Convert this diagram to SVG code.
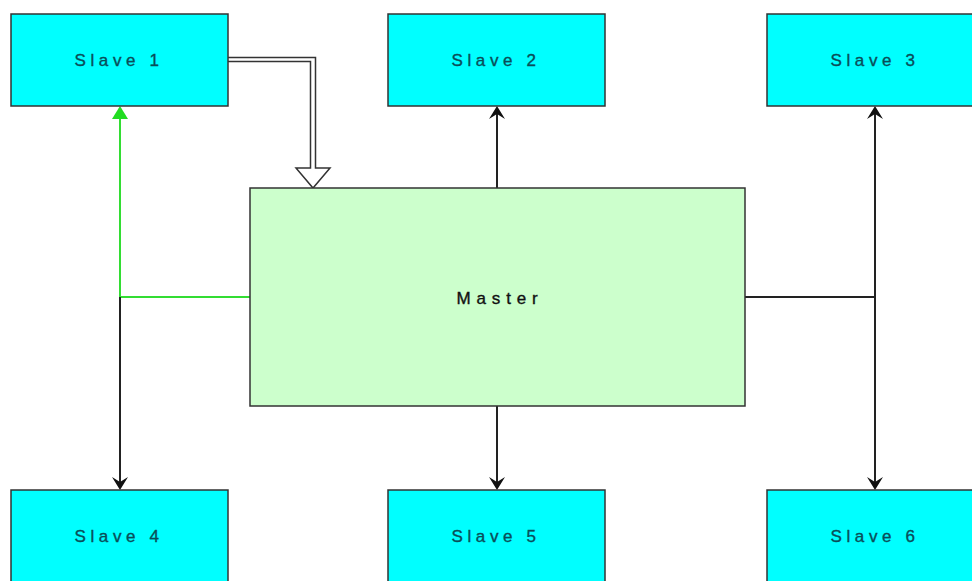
<svg xmlns="http://www.w3.org/2000/svg" width="972" height="581" viewBox="0 0 972 581">
<defs>
<style>
.slave{fill:#00ffff;stroke:#333;stroke-width:1.5}
.master{fill:#ccffcc;stroke:#333;stroke-width:1.5}
.lbl{font-family:"Liberation Sans",Arial,sans-serif;font-size:17px;letter-spacing:4.6px;fill:#0a4d58;stroke:#0a4d58;stroke-width:0.35;text-anchor:middle;dominant-baseline:central}
.mlbl{font-family:"Liberation Sans",Arial,sans-serif;font-size:17px;letter-spacing:5.8px;fill:#111;stroke:#111;stroke-width:0.35;text-anchor:middle;dominant-baseline:central}
.k{stroke:#222;stroke-width:2;fill:none}
.g{stroke:#33dd33;stroke-width:2;fill:none}
</style>
</defs>
<g id="connectors">
<path class="g" d="M250,297 H120 V108"/>
<path d="M120,106 L128,119 L112,119 Z" fill="#22dd22"/>
<path class="k" d="M120,297 V488"/>
<path d="M120,490 L112,477 L120,482 L128,477 Z" fill="#111"/>
<path class="k" d="M497,188 V108"/>
<path d="M497,106 L489,119 L497,114 L505,119 Z" fill="#111"/>
<path class="k" d="M497,406 V488"/>
<path d="M497,490 L489,477 L497,482 L505,477 Z" fill="#111"/>
<path class="k" d="M745,297 H875" stroke-width="1.3"/>
<path class="k" d="M875,108 V488"/>
<path d="M875,106 L867,119 L875,114 L883,119 Z" fill="#111"/>
<path d="M875,490 L867,477 L875,482 L883,477 Z" fill="#111"/>
<path d="M228,57.5 H315.5 V168 H330 L313,188 L296,168 H310.5 V61.5 H228" fill="#fff" stroke="#333" stroke-width="1.5"/>
</g>
<g id="slave1"><rect class="slave" x="11" y="14" width="217" height="92"/><text class="lbl" x="119" y="60">Slave 1</text></g>
<g id="slave2"><rect class="slave" x="388" y="14" width="217" height="92"/><text class="lbl" x="496" y="60">Slave 2</text></g>
<g id="slave3"><rect class="slave" x="767" y="14" width="217" height="92"/><text class="lbl" x="875" y="60">Slave 3</text></g>
<g id="master"><rect class="master" x="250" y="188" width="495" height="218"/><text class="mlbl" x="500" y="298">Master</text></g>
<g id="slave4"><rect class="slave" x="11" y="490" width="217" height="92"/><text class="lbl" x="119" y="536">Slave 4</text></g>
<g id="slave5"><rect class="slave" x="388" y="490" width="217" height="92"/><text class="lbl" x="496" y="536">Slave 5</text></g>
<g id="slave6"><rect class="slave" x="767" y="490" width="217" height="92"/><text class="lbl" x="875" y="536">Slave 6</text></g>
</svg>
